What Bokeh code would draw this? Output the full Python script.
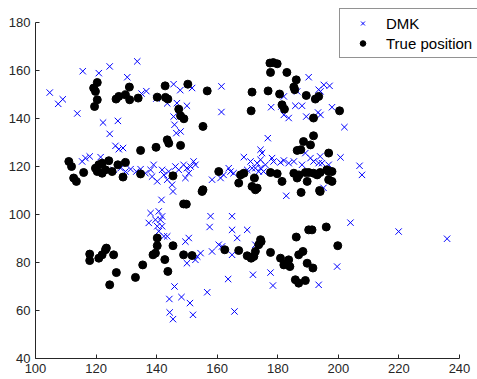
from bokeh.plotting import figure
from bokeh.models import Range1d, FixedTicker, Legend, LegendItem
from bokeh.embed import file_html
from bokeh.resources import INLINE

# DMK estimated positions
dmk_x = [104.7, 107.5, 109.0, 113.8, 115.6, 120.9, 124.5, 130.3, 133.6, 122.3, 127.2,
         135.0, 136.6, 139.9, 143.5, 145.6, 147.8, 146.7, 150.0, 145.6, 145.9, 146.5, 147.9,
         151.7, 161.4, 161.4, 177.8, 182.0, 181.2, 182.0, 183.6, 185.8, 188.0, 186.4, 190.2,
         189.4, 193.5, 194.1, 195.2, 197.1, 193.3, 194.1, 197.9, 202.0,
         200.7, 207.0, 207.8, 194.6, 194.0, 195.1, 204.0, 219.9, 235.9,
         124.5, 126.4, 127.5, 128.9, 115.4, 116.5, 117.9, 121.5, 125.8, 128.1, 129.7, 131.4,
         133.3, 134.7, 136.3, 138.0, 139.0, 138.5, 140.2, 141.8, 142.4, 144.0, 143.5, 146.2,
         147.3, 145.1, 145.4, 141.6, 138.0, 140.7, 141.8, 139.6, 141.3, 137.4, 140.2, 141.8,
         140.7, 142.4, 143.5, 149.5, 150.6,
         176.7, 174.3, 174.8, 168.8, 171.0, 173.2, 174.3, 172.6, 174.3, 175.9, 178.1, 178.6,
         169.9, 171.5, 173.7, 175.3, 180.9, 182.0, 183.6, 185.3, 188.0, 189.1, 190.8, 191.8,
         193.5, 196.8, 182.8, 148.9, 150.0, 151.2, 152.2, 152.8, 150.6, 149.5,
         158.3, 161.1, 162.1, 163.8, 164.4, 165.4, 157.8, 164.9, 157.5, 164.9, 166.6, 169.9,
         160.5, 172.6,
         151.0, 152.0, 152.8, 154.5, 153.4, 158.3, 161.6, 164.9, 156.7, 163.6, 165.7, 171.8,
         177.6, 178.4, 193.5, 199.6,
         145.9, 144.2, 148.2, 144.3, 145.4, 150.0]
dmk_y = [150.8, 146.1, 148.0, 142.1, 159.7, 158.9, 161.7, 157.2, 163.8, 138.3, 139.0,
         150.4, 151.4, 148.3, 146.3, 154.3, 151.8, 146.4, 145.3, 140.8, 137.4, 133.9, 134.6,
         152.7, 153.4, 142.7, 144.7, 149.2, 145.0, 141.5, 140.2, 145.3, 145.3, 151.3, 157.2,
         140.8, 152.0, 151.3, 154.0, 153.6, 142.5, 141.5, 144.7, 136.4,
         123.8, 120.3, 116.5, 121.4, 124.2, 111.1, 96.6, 92.9, 89.9,
         133.6, 128.6, 127.2, 127.7, 122.1, 123.5, 124.2, 123.9, 118.6, 119.3, 117.9, 118.9,
         117.9, 118.9, 117.2, 118.6, 120.7, 115.8, 113.8, 118.6, 116.5, 117.9, 114.5, 120.0,
         118.6, 112.4, 109.6, 106.1, 100.6, 101.3, 99.2, 97.8, 97.8, 96.5, 95.1, 95.1,
         93.0, 90.9, 90.9, 88.7, 90.2,
         131.8, 127.0, 125.6, 123.9, 122.1, 121.4, 122.8, 119.3, 119.3, 120.7, 123.5, 122.1,
         118.6, 119.3, 117.9, 117.9, 121.7, 122.5, 121.4, 122.1, 120.7, 125.6, 123.5, 122.1,
         121.4, 120.7, 107.8, 120.7, 119.3, 120.0, 122.1, 120.7, 117.2, 115.2,
         114.5, 115.2, 116.5, 119.3, 117.9, 117.2, 99.3, 99.3, 94.8, 93.6, 90.2, 93.6,
         87.4, 87.4,
         63.1, 58.2, 81.1, 83.9, 82.5, 84.6, 86.7, 83.2, 67.6, 73.1, 59.6, 74.9,
         75.8, 70.4, 70.7, 78.3,
         70.0, 64.8, 65.6, 59.2, 56.4, 79.7]

# True positions
true_x = [119.2, 120.4, 119.8, 120.4, 119.5, 126.6, 127.5, 131.0, 129.7, 131.1, 133.9,
          140.2, 142.9, 143.7, 142.8, 147.3, 147.9, 149.0, 150.3,
          156.7, 155.3, 171.5, 171.2, 176.8, 177.4, 178.5, 179.8, 177.6, 183.0, 180.6, 181.4,
          182.2, 185.3, 186.1, 185.6, 189.4, 192.4, 193.5, 191.8, 200.4,
          196.8, 196.8, 197.9, 196.8, 197.9, 194.0, 196.0, 199.8,
          111.0, 111.9, 112.6, 113.5, 115.9, 119.8, 120.9, 122.0, 120.4, 122.0, 123.1, 124.2,
          125.3, 127.2, 129.7, 128.9, 134.7, 139.8, 143.5, 144.0, 147.9, 134.7, 145.4, 148.9,
          149.8, 140.2, 140.2, 145.4, 123.4,
          117.9, 117.9, 120.9, 122.0, 123.1, 125.8, 126.7, 124.5, 133.0, 135.4, 138.8, 139.6,
          142.7, 143.7, 148.9,
          151.7, 162.5, 167.1, 169.9, 171.2, 172.1, 172.6, 174.5, 177.6, 180.9, 182.0, 183.1,
          183.6, 184.0, 186.9, 188.3, 189.7, 191.6, 185.8, 186.9, 189.1,
          191.8, 188.5, 190.8, 186.4, 187.6, 160.5, 167.7, 167.1, 168.8, 172.3, 171.5, 172.6,
          173.2, 177.6, 179.8, 181.4, 155.3, 155.0, 185.3, 187.0, 186.4, 189.1, 189.7, 190.2,
          191.8, 193.0, 194.0, 196.2, 187.7, 193.8, 190.2, 191.3, 186.1, 174.3, 173.7]
true_y = [152.7, 155.0, 151.3, 147.8, 145.0, 148.1, 149.2, 153.1, 149.9, 147.8, 148.5,
          148.9, 148.8, 148.1, 153.6, 143.9, 141.1, 139.9, 154.3,
          151.5, 136.7, 151.0, 143.2, 151.5, 163.1, 163.3, 162.8, 159.2, 159.2, 150.2, 145.7,
          143.9, 153.1, 156.1, 152.0, 149.6, 148.1, 149.2, 140.2, 143.2,
          125.6, 117.9, 117.9, 114.5, 113.8, 109.6, 94.8, 87.0,
          122.1, 120.0, 115.2, 113.8, 117.5, 119.3, 120.7, 121.4, 117.9, 117.2, 118.6, 122.4,
          117.9, 120.7, 121.7, 115.6, 126.7, 128.0, 131.1, 129.7, 128.8, 116.9, 116.1, 104.4,
          104.3, 90.2, 87.0, 87.0, 86.0,
          83.5, 80.8, 81.8, 83.2, 85.3, 83.2, 75.8, 70.7, 73.8, 79.0, 83.2, 83.9,
          81.2, 76.3, 83.2,
          82.9, 85.3, 85.0, 82.8, 81.8, 82.5, 84.6, 88.7, 84.2, 81.8, 79.0, 79.7,
          81.1, 78.3, 83.2, 84.6, 79.7, 77.7, 72.8, 71.4, 72.5,
          132.8, 130.4, 129.0, 126.7, 127.0, 117.9, 116.5, 113.1, 117.2, 115.2, 111.7, 110.3,
          111.0, 117.5, 117.0, 113.8, 110.3, 109.6, 117.2, 116.5, 115.2, 117.5, 113.8, 117.5,
          117.2, 116.5, 117.5, 118.6, 109.2, 110.0, 93.6, 93.6, 90.6, 89.5, 87.4]

x_ticks = [100, 120, 140, 160, 180, 200, 220, 240]
y_ticks = [40, 60, 80, 100, 120, 140, 160, 180]

AXIS_COLOR = "#262626"
FONT = "Liberation Sans"

# Axes span 100-240 and 40-180; the frame reaches the canvas edges so the
# legend box can sit above the top tick and touch the right edge.
PX_X = 424 / 140.0
PX_Y = 336 / 140.0
FRAME_W, FRAME_H = 442, 358

p = figure(frame_width=FRAME_W, frame_height=FRAME_H,
           x_range=Range1d(100, 100 + FRAME_W / PX_X),
           y_range=Range1d(40, 40 + FRAME_H / PX_Y),
           output_backend="svg", toolbar_location=None,
           min_border_left=35, min_border_right=0,
           min_border_top=0, min_border_bottom=21,
           outline_line_color=None, background_fill_color="white",
           border_fill_color="white")
p.grid.visible = False

for ax, ticks in ((p.xaxis, x_ticks), (p.yaxis, y_ticks)):
    ax.ticker = FixedTicker(ticks=ticks)
    ax.bounds = (ticks[0], ticks[-1])
    ax.axis_line_color = AXIS_COLOR
    ax.axis_line_width = 1
    ax.major_tick_line_color = AXIS_COLOR
    ax.major_tick_in = 4
    ax.major_tick_out = 0
    ax.minor_tick_line_color = None
    ax.major_label_text_font = FONT
    ax.major_label_text_font_size = "13px"
    ax.major_label_text_color = AXIS_COLOR
    ax.major_label_standoff = 5

r_dmk = p.scatter(dmk_x, dmk_y, marker="x", size=9,
                  line_color="#0000ff", line_width=1)
r_true = p.scatter(true_x, true_y, marker="circle", size=8,
                   fill_color="black", line_color="black")

legend = Legend(items=[LegendItem(label="DMK", renderers=[r_dmk]),
                       LegendItem(label="True position", renderers=[r_true])],
                location=(304, 300),
                padding=5, spacing=2, margin=0,
                glyph_width=35, glyph_height=14,
                label_height=18, label_standoff=6,
                label_text_font=FONT, label_text_font_size="15px",
                label_text_color="black",
                border_line_color=AXIS_COLOR, border_line_width=1,
                background_fill_color="white", background_fill_alpha=1)
p.add_layout(legend, "center")

open("out.html", "w").write(file_html(p, INLINE))
